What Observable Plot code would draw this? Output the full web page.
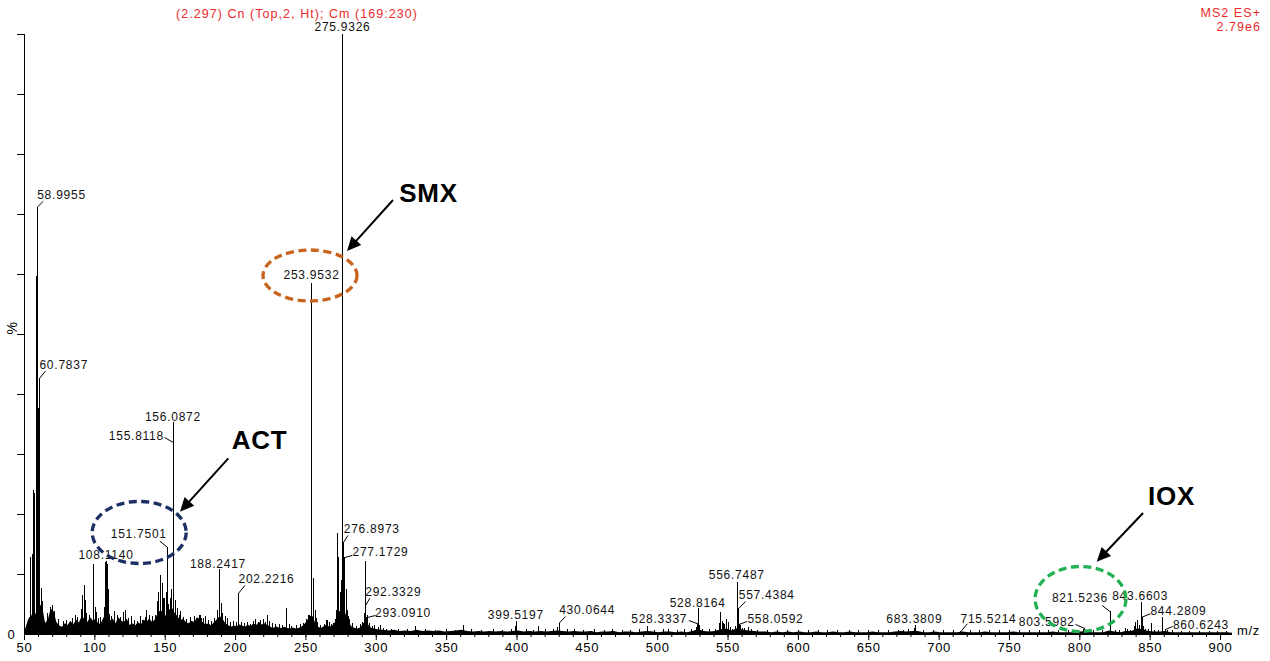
<!DOCTYPE html>
<html>
<head>
<meta charset="utf-8">
<script src="https://cdn.jsdelivr.net/npm/d3@7"></script>
<script src="https://cdn.jsdelivr.net/npm/@observablehq/plot@0.6"></script>
<style>
  body { margin: 0; background: #fff; }
  #wrap { position: relative; width: 1270px; height: 661px; overflow: hidden; font-family: 'Liberation Sans', Arial, sans-serif; }
  .hdr { position: absolute; color: #ee2a2a; font-size: 12.5px; letter-spacing: 1.05px; line-height: 14px; white-space: nowrap; }
  g[aria-label="callout"] text { letter-spacing: 0; }
</style>
</head>
<body>
<div id="wrap">
  <div class="hdr" style="left:176px; top:7px;">(2.297) Cn (Top,2, Ht); Cm (169:230)</div>
  <div class="hdr" style="right:9px; top:6px; text-align:right;">MS2 ES+<br>2.79e6</div>
</div>
<script>
// ---------- data (m/z, relative intensity %) ----------
const xTicksMajor = [50, 100, 150, 200, 250, 300, 350, 400, 450, 500, 550, 600, 650, 700, 750, 800, 850, 900];
const yTicks = [10, 20, 30, 40, 50, 60, 70, 80, 90, 100];

// labelled peaks
const labelText   = ["58.9955","60.7837","108.1140","151.7501","155.8118","156.0872","188.2417","202.2216","253.9532","275.9326","276.8973","277.1729","292.3329","293.0910","399.5197","430.0644","528.3337","528.8164","556.7487","557.4384","558.0592","683.3809","715.5214","803.5982","821.5236","843.6603","844.2809","860.6243"];
const labelPeakMz = [58.9955,60.7837,108.114,151.7501,155.8118,156.0872,188.2417,202.2216,253.9532,275.9326,276.8973,277.1729,292.3329,293.091,399.5197,430.0644,528.3337,528.8164,556.7487,557.4384,558.0592,683.3809,715.5214,803.5982,821.5236,843.6603,844.2809,860.6243];
const labelPeakPct= [71.2,42.7,12.2,14.5,32.0,35.3,10.8,6.9,58.5,100,15.4,12.8,4.8,2.8,2.1,1.9,1.8,4.3,8.7,4.3,1.7,1.5,0.5,1.0,3.8,5.4,2.9,0.8];
// where each label text sits (data units)
const labelAtMz   = [76.3,77.9,107.9,131.2,129.5,155.5,187.5,222.0,254.0,276.0,296.8,303.0,312.1,319.0,399.2,449.9,501.1,528.4,556.2,577.5,583.7,682.4,735.1,776.5,800.1,842.9,870.1,886.1];
const labelAtPct  = [73.25,44.83,13.17,16.67,33.05,36.2,11.78,9.17,59.83,101.17,17.5,13.72,7.05,3.55,3.17,4.0,2.62,5.22,9.95,6.5,2.5,2.5,2.62,2.05,6.05,6.38,3.88,1.5];
// leader line ends (null = no leader)
const leaderMz    = [63.3,64.9,null,146.2,149.5,null,null,206.6,null,null,279.8,282.9,295.4,299.45,null,434.5,522.1,null,null,562.4,563.6,null,720.0,796.9,815.9,null,850.2,865.9];
const leaderPct   = [72.2,43.9,null,15.55,32.83,null,null,8.17,null,null,16.5,13.17,6.05,3.17,null,3.0,2.33,null,null,5.5,2.17,null,1.78,1.67,4.83,null,3.45,1.33];

// other (unlabelled) peaks [m/z, %]
const lowMassPeaks = [
 [53.9,2.9],[54.3,12.9],[55.5,13.3],[56.6,24],[57.3,23.5],[58.3,59.6],[60.2,37.7],[61.9,7.7],[62.6,5.5],
 [66,3.5],[68.8,4.5],[70,4.8],[71.5,3.8],[74,2.5],[78,2.2],[80,2.4],[84,2.6],[86,3.2],[88,2.8],[90.5,4.2],
 [91.5,6.5],[92.6,8.1],[93.0,5.6],[94.2,3.5],[96,3.2],[98.8,11.7],[100.2,4.5],[101.2,3.6],[102.5,2.6],[104,2.8],
 [106.5,4.5],[107.6,12.0],[109.0,11.7],[109.6,7.5],[110.5,3.4],[112,3.0],[114.3,3.8],[116,3.2],[118,2.8],[120.5,3.6],
 [122,4.0],[124,2.6],[126,3.0],[128.5,2.4],[130,2.2],[132.3,3.0],[134,2.4],[136,2.8],[137.0,4.0],[139,3.2],
 [141,3.0],[143,3.2],[144.7,5.5],[145.5,7.0],[146.7,9.8],[147.9,8.5],[148.8,6.0],[149.5,6.0],[150.9,7.0],[152.5,5.0],
 [153.5,6.0],[154.5,7.5],[157.5,5.7],[158.5,4.3],[159.8,3.2],[161,3.8],[163,2.8],[165,2.5],[168,2.8],[170.5,3.0],
 [172,2.6],[174.1,3.2],[175,3.2],[176,2.6],[177.4,2.7],[178.5,3.0],[180.5,2.4],[183,2.2],[185,2.6],[187,4.0],
 [188.9,4.0],[189.8,5.2],[190.8,3.5],[192.7,3.0],[194,2.7],[196.5,2.0],[198.5,2.2],[200.5,2.0],[204,2.0],[206,1.8],
 [208.5,2.0],[210.5,1.7],[212.5,2.2],[214.3,2.5],[216.2,2.0],[218,2.4],[219.6,2.5],[221,2.0],[222.5,3.2],[224,2.1],
 [226,1.8],[228.5,1.6],[231,1.7],[233,1.5],[236.2,4.4],[238,1.6],[240,1.4],[243,1.5],[246,1.6],[248,1.8],
 [250.5,2.5],[251.5,3.2],[252.5,3.2],[255.6,9.3],[256.5,4.0],[257.3,2.7],[258.5,2.0],[260.5,1.5],[263,1.6],[264.5,2.3],
 [265.1,2.3],[267,2.0],[268.5,1.6],[269.9,1.9],[271,2.5],[271.8,4.0],[272.7,16.8],[273.4,12.9],[274.6,7.0],[275.2,9.0],
 [276.5,8.0],[278.8,7.5],[279.5,4.0],[280,3.0],[281,2.5],[283,1.8],[286,1.4],[288.5,1.6],[290.5,2.0],[291.5,3.5],
 [292.0,12.2],[293.6,3.2],[294,2.3],[295,1.8],[297,1.4],[299,1.5]
];
const midMassPeaks = [
 [301.5,1.2],[303,1.5],[305,1.0],[307,0.9],[311,0.8],[316,0.9],[322,0.8],[327.9,1.3],[335,0.8],[342,0.7],
 [350,0.8],[356,0.7],[361.8,1.5],[368,0.8],[375,0.7],[383,0.8],[390,0.7],[396,0.8],[398.8,1.4],[407,0.8],
 [412,0.7],[415.4,1.3],[420,0.8],[426,0.9],[428.5,1.2],[436,0.8],[441,0.9],[447,0.7],[455,0.8],[462,0.7],
 [468,0.8],[475,0.6],[481,0.7],[487,0.8],[492.6,1.3],[498,0.7],[504,0.9],[508,0.8],[514,0.7],[519,0.8],
 [524,0.9],[527.5,1.2],[529.7,1.5],[532,0.8],[537,0.8],[541,0.9],[543.8,1.8],[544.7,3.6],[545.7,2.2],[546.6,1.9],
 [547.5,1.6],[548.7,2.5],[550.1,2.0],[551.5,1.2],[553,0.9],[555.5,1.4],[558.9,1.5],[560,1.0],[562,1.0],[564.8,1.1],
 [567,0.8],[571,0.7],[578,0.6],[585,0.7],[592,0.6]
];
const highMassPeaks = [
 [600,0.7],[607,0.6],[614,0.7],[621,0.6],[628,0.7],[636,0.6],[643,0.7],[650,0.6],[657,0.6],[664,0.7],
 [671,0.6],[675,0.7],[678,0.8],[682.6,1.0],[689,0.6],[696,0.6],[703,0.7],[710,0.6],[722,0.6],[729,0.7],
 [736,0.6],[743,0.6],[750,0.7],[757,0.6],[764,0.6],[771,0.6],[778,0.7],[785,0.6],[792,0.6],[798,0.7],
 [802.5,0.8],[810,0.6],[816,0.7],[822,2.0],[825,0.7],[828,0.6],[832.3,1.0],[834,0.8],[836,0.7],[838.8,1.4],
 [839.8,2.0],[840.7,2.3],[842.4,1.5],[845,1.3],[847,0.9],[849,0.8],[850.8,1.8],[853,0.7],[856,0.6],[859.1,2.8],
 [862,0.6],[866,0.6],[872,0.5],[878,0.5],[885,0.5],[892,0.5],[898,0.5],[904,0.5]
];

// baseline noise band [m/z, %]
const noiseLow = [
 [50,0.5],[51,1.0],[53,2.5],[55,3.0],[57,4.0],[59,3.0],[61,5.0],[63,4.5],[65,1.8],[67,2.5],[69,4.2],[71,3.8],
 [73,2.0],[75,1.4],[77,1.2],[79,1.8],[81,1.5],[83,2.2],[85,1.6],[87,2.4],[89,1.9],[91,3.0],[93,2.5],[95,2.0],
 [97,2.8],[99,2.2],[101,2.6],[103,1.6],[105,2.0],[107,3.0],[109,2.8],[111,2.2],[113,2.6],[115,1.8],[117,2.8],
 [119,2.2],[121,2.0],[123,2.6],[125,1.5],[127,1.8],[129,1.4],[131,2.0],[133,1.6],[135,2.4],[137,2.0],[139,2.6],
 [141,2.0],[143,2.4],[145,3.5],[147,4.0],[149,3.5],[151,3.0],[153,4.0],[155,4.5],[157,3.5],[159,3.0],[161,2.2],
 [163,2.6],[165,2.0],[167,1.8],[169,2.2],[171,2.0],[173,2.8],[175,2.4],[177,2.0],[179,1.6],[181,1.8],[183,1.4],
 [185,2.0],[187,2.4],[189,3.0],[191,2.6],[193,1.8],[195,1.5],[197,1.2],[199,1.4],[201,1.3],[203,1.6],[205,1.4],
 [207,1.2],[209,1.6],[211,1.3],[213,1.8],[215,1.5],[217,2.0],[219,1.6],[221,1.8],[223,1.5],[225,1.2],[227,1.0],
 [229,1.3],[231,1.1],[233,1.0],[235,1.2],[237,1.0],[239,0.9],[241,1.1],[243,0.9],[245,1.0],[247,1.2],[249,1.6],
 [251,2.2],[253,3.0],[255,3.0],[257,1.8],[259,1.2],[261,1.0],[263,1.3],[265,1.6],[267,1.2],[269,1.4],[271,2.0],
 [273,3.5],[275,4.0],[277,4.5],[279,3.0],[281,1.8],[283,1.2],[285,1.0],[287,0.9],[289,1.1],[291,1.8],[293,2.2],
 [295,1.4],[297,1.0],[299,0.9]
];
const noiseHigh = [
 [301,0.8],[305,0.7],[309,0.6],[313,0.7],[317,0.5],[321,0.6],[325,0.5],[329,0.7],[333,0.5],[337,0.6],[341,0.5],
 [345,0.6],[349,0.4],[353,0.5],[357,0.6],[361,0.7],[365,0.5],[369,0.4],[373,0.5],[377,0.4],[381,0.5],[385,0.4],
 [389,0.5],[393,0.4],[397,0.5],[401,0.6],[405,0.4],[409,0.5],[413,0.4],[417,0.5],[421,0.4],[425,0.5],[429,0.6],
 [433,0.5],[437,0.4],[441,0.5],[445,0.4],[449,0.4],[453,0.5],[457,0.3],[461,0.4],[465,0.4],[469,0.5],[473,0.3],
 [477,0.4],[481,0.4],[485,0.3],[489,0.4],[493,0.5],[497,0.4],[501,0.3],[505,0.4],[509,0.4],[513,0.3],[517,0.4],
 [521,0.3],[525,0.5],[529,0.8],[533,0.5],[537,0.4],[541,0.5],[545,0.8],[549,0.9],[553,0.6],[557,1.0],[561,0.7],
 [565,0.6],[569,0.5],[573,0.4],[577,0.4],[581,0.3],[585,0.4],[589,0.3],[593,0.4],[597,0.3],[601,0.4],[605,0.3],
 [609,0.3],[613,0.4],[617,0.3],[621,0.3],[625,0.4],[629,0.3],[633,0.3],[637,0.4],[641,0.3],[645,0.3],[649,0.3],
 [653,0.4],[657,0.3],[661,0.3],[665,0.3],[669,0.4],[673,0.5],[677,0.4],[681,0.5],[685,0.5],[689,0.3],[693,0.3],
 [697,0.4],[701,0.3],[705,0.3],[709,0.3],[713,0.3],[717,0.4],[721,0.3],[725,0.3],[729,0.3],[733,0.4],[737,0.3],
 [741,0.3],[745,0.3],[749,0.3],[753,0.4],[757,0.3],[761,0.3],[765,0.3],[769,0.3],[773,0.3],[777,0.3],[781,0.4],
 [785,0.3],[789,0.3],[793,0.3],[797,0.3],[801,0.4],[805,0.5],[809,0.3],[813,0.3],[817,0.3],[821,0.6],[825,0.4],
 [829,0.3],[833,0.5],[837,0.5],[841,0.9],[845,0.8],[849,0.5],[853,0.4],[857,0.4],[861,0.5],[865,0.3],[869,0.3],
 [873,0.3],[877,0.3],[881,0.3],[885,0.3],[889,0.3],[893,0.3],[897,0.3],[901,0.3],[905,0.3],[908.5,0.2]
];

// callouts: compound name, text position, arrow tail/tip, ellipse centre & radii (data units)
const calloutName    = ["SMX","ACT","IOX"];
const calloutTextMz  = [337.1, 217.0, 865.2];
const calloutTextPct = [73.5, 32.33, 23.0];
const arrowTailMz    = [312.25, 195.2, 845.3];
const arrowTailPct   = [72.33, 29.28, 20.17];
const arrowTipMz     = [279.56, 160.87, 812.36];
const arrowTipPct    = [63.83, 20.38, 12.05];
const ellipseMz      = [253.26, 131.87, 800.85];
const ellipsePct     = [59.75, 16.92, 5.83];
const ellipseRMz     = [33.4, 33.4, 32.3];
const ellipseRPct    = [4.25, 5.17, 5.42];
const ellipseColor   = ["#c9641e", "#1b2f63", "#21b152"];

// ---------- build tables ----------
const labels = labelText.map((t, i) => ({
  text: t, pMz: labelPeakMz[i], pPct: labelPeakPct[i],
  tMz: labelAtMz[i], tPct: labelAtPct[i], lMz: leaderMz[i], lPct: leaderPct[i]
}));
const leaders = labels.filter(d => d.lMz != null);
const peaks = [
  ...labels.map(d => [d.pMz, d.pPct]),
  ...lowMassPeaks, ...midMassPeaks, ...highMassPeaks
];
const noise = [...noiseLow, ...noiseHigh];
const callouts = calloutName.map((n, i) => ({
  name: n, tx: calloutTextMz[i], ty: calloutTextPct[i],
  ax1: arrowTailMz[i], ay1: arrowTailPct[i], ax2: arrowTipMz[i], ay2: arrowTipPct[i],
  ex: ellipseMz[i], ey: ellipsePct[i], erx: ellipseRMz[i], ery: ellipseRPct[i], color: ellipseColor[i]
}));

// custom marks drawn through the plot scales
function ellipses(index, scales) {
  const g = d3.create("svg:g").attr("aria-label", "ellipses");
  for (const c of callouts) {
    const cx = scales.x(c.ex), cy = scales.y(c.ey);
    g.append("ellipse")
      .attr("cx", cx).attr("cy", cy)
      .attr("rx", Math.abs(scales.x(c.ex + c.erx) - cx))
      .attr("ry", Math.abs(scales.y(c.ey + c.ery) - cy))
      .attr("fill", "none").attr("stroke", c.color)
      .attr("stroke-width", 3.3).attr("stroke-dasharray", "8 4.5");
  }
  return g.node();
}
function arrows(index, scales) {
  const g = d3.create("svg:g").attr("aria-label", "arrows");
  for (const c of callouts) {
    const x1 = scales.x(c.ax1), y1 = scales.y(c.ay1), x2 = scales.x(c.ax2), y2 = scales.y(c.ay2);
    const len = Math.hypot(x2 - x1, y2 - y1), ux = (x2 - x1) / len, uy = (y2 - y1) / len;
    const hl = 14, hw = 6.5;
    const bx = x2 - ux * hl, by = y2 - uy * hl;
    g.append("line").attr("x1", x1).attr("y1", y1).attr("x2", bx + ux * 2).attr("y2", by + uy * 2)
      .attr("stroke", "#000").attr("stroke-width", 2);
    g.append("polygon")
      .attr("points", `${x2},${y2} ${bx - uy * hw},${by + ux * hw} ${bx + uy * hw},${by - ux * hw}`)
      .attr("fill", "#000");
  }
  return g.node();
}

const chart = Plot.plot({
  width: 1270,
  height: 661,
  marginLeft: 24,
  marginRight: 38,
  marginTop: 34,
  marginBottom: 27,
  style: "font-family: 'Liberation Sans', Arial, sans-serif; letter-spacing: 0.75px; overflow: visible; background: transparent; color: #000;",
  x: { domain: [50, 908.5] },
  y: { domain: [0, 100] },
  marks: [
    Plot.areaY(noise, { x: d => d[0], y: d => d[1], fill: "#000", curve: "linear" }),
    Plot.ruleX(peaks, { x: d => d[0], y1: 0, y2: d => d[1], stroke: "#000", strokeWidth: 1, shapeRendering: "crispEdges" }),
    Plot.ruleY([0], { stroke: "#000", strokeWidth: 1 }),
    Plot.ruleX([50], { y1: 0, y2: 100, stroke: "#000", strokeWidth: 1 }),
    Plot.axisX({ ticks: d3.range(50, 901, 10), tickSize: 3, tickFormat: () => "", label: null }),
    Plot.axisX({ ticks: xTicksMajor, tickSize: 6, tickPadding: 2, fontSize: 13, label: null }),
    Plot.axisY({ ticks: yTicks, tickSize: 7, tickFormat: () => "", label: null }),
    Plot.axisY({ ticks: [0], tickSize: 0, tickPadding: 9, fontSize: 13, label: null }),
    Plot.text(["%"], { frameAnchor: "left", dx: -12, rotate: -90, fontSize: 14, fill: "#000" }),
    Plot.text(["m/z"], { frameAnchor: "bottom-right", dx: 16, textAnchor: "middle", fontSize: 13, fill: "#000" }),
    Plot.link(leaders, { x1: "pMz", y1: "pPct", x2: "lMz", y2: "lPct", stroke: "#000", strokeWidth: 1 }),
    Plot.text(labels, { x: "tMz", y: "tPct", text: "text", fontSize: 12, fill: "#111" }),
    ellipses,
    arrows,
    Plot.text(callouts, { x: "tx", y: "ty", text: "name", fontSize: 26, fontWeight: "bold", fill: "#000", ariaLabel: "callout" })
  ]
});
chart.style.position = "absolute";
chart.style.left = "0px";
chart.style.top = "0px";
document.getElementById("wrap").appendChild(chart);
</script>
</body>
</html>
